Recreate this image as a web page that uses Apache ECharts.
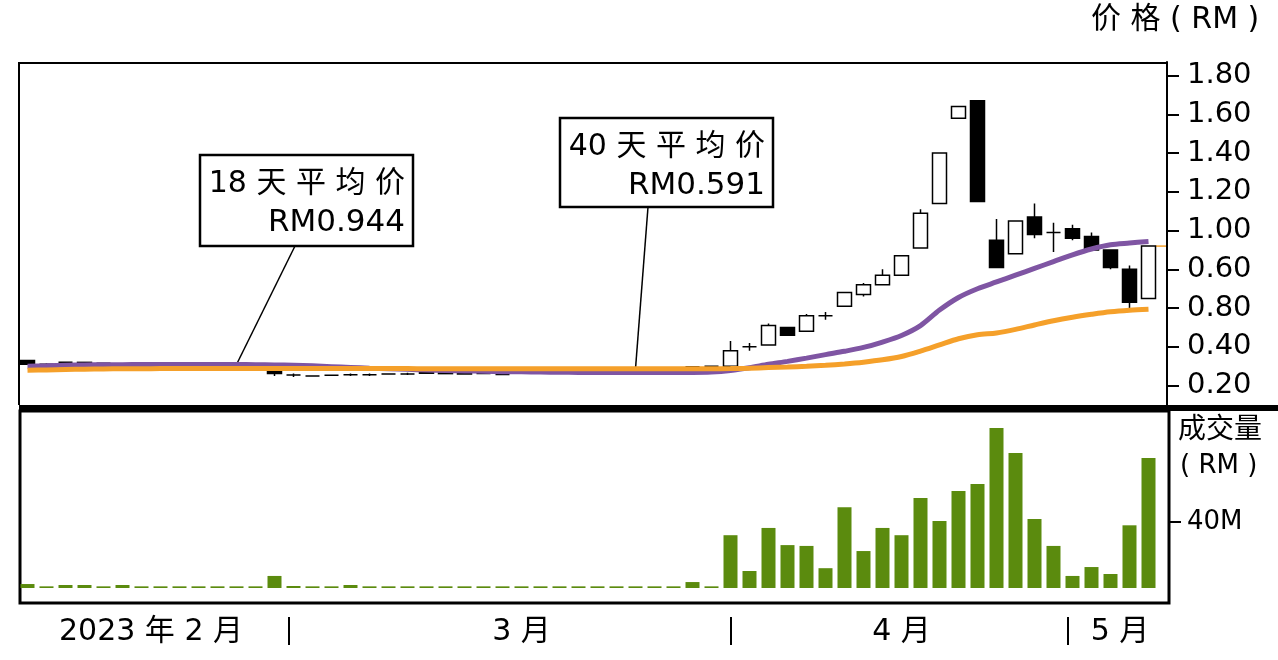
<!DOCTYPE html>
<html lang="zh">
<head>
<meta charset="UTF-8">
<title>价格走势</title>
<script src="https://cdn.jsdelivr.net/npm/echarts@6/dist/echarts.min.js"></script>
<style>
    html, body { margin: 0; padding: 0; background: #fff; }
    #main { width: 1278px; height: 660px; }
</style>
</head>
<body>
<div id="main"></div>
<script type="text/javascript">
// 交易日 2023-02-09 至 2023-05-08
var days = [
    '02-09','02-10','02-13','02-14','02-15','02-16','02-17','02-20','02-21','02-22','02-23','02-24','02-27','02-28',
    '03-01','03-02','03-03','03-06','03-07','03-08','03-09','03-10','03-13','03-14','03-15','03-16','03-17','03-20',
    '03-21','03-22','03-23','03-24','03-27','03-28','03-29','03-30','03-31',
    '04-03','04-04','04-05','04-06','04-07','04-10','04-11','04-12','04-13','04-14','04-17','04-18','04-19','04-20',
    '04-25','04-26','04-27','04-28',
    '05-02','05-03','05-04','05-05','05-08'
];

// 开盘 / 收盘 / 最低 / 最高 (RM)
var opens = [
    0.33,0.31,0.32,0.32,0.315,0.31,0.305,0.305,0.30,0.305,0.30,0.30,0.30,0.28,
    0.255,0.25,0.254,0.256,0.256,0.26,0.26,0.268,0.265,0.263,0.262,0.258,0.27,0.278,0.278,0.282,0.28,0.285,0.283,0.285,0.29,0.298,0.30,
    0.30,0.40,0.41,0.50,0.48,0.56,0.61,0.67,0.72,0.77,0.91,1.14,1.58,1.67,0.95,0.88,1.07,0.99,1.01,0.97,0.90,0.80,0.65
];
var closes = [
    0.31,0.31,0.32,0.316,0.315,0.31,0.305,0.305,0.30,0.305,0.30,0.30,0.30,0.263,
    0.255,0.25,0.254,0.256,0.256,0.26,0.26,0.264,0.262,0.26,0.262,0.258,0.27,0.278,0.278,0.282,0.28,0.285,0.283,0.285,0.29,0.298,0.30,
    0.38,0.40,0.51,0.46,0.56,0.56,0.68,0.72,0.77,0.87,1.09,1.40,1.64,1.15,0.81,1.05,0.98,0.99,0.96,0.90,0.81,0.63,0.92
];
var lows = [
    0.31,0.305,0.318,0.316,0.312,0.305,0.30,0.30,0.298,0.30,0.298,0.295,0.295,0.25,
    0.245,0.248,0.25,0.25,0.25,0.258,0.255,0.264,0.262,0.26,0.26,0.256,0.268,0.276,0.276,0.28,0.278,0.283,0.281,0.283,0.288,0.296,0.298,
    0.30,0.38,0.41,0.46,0.48,0.54,0.61,0.66,0.72,0.77,0.91,1.14,1.58,1.15,0.81,0.88,0.96,0.89,0.95,0.90,0.80,0.60,0.65
];
var highs = [
    0.33,0.315,0.325,0.32,0.318,0.312,0.31,0.31,0.305,0.31,0.305,0.305,0.302,0.28,
    0.262,0.252,0.256,0.262,0.262,0.262,0.266,0.268,0.265,0.263,0.264,0.26,0.272,0.28,0.28,0.284,0.282,0.287,0.285,0.287,0.292,0.30,0.30,
    0.43,0.42,0.52,0.50,0.57,0.58,0.68,0.73,0.80,0.87,1.11,1.40,1.64,1.67,1.06,1.05,1.14,1.04,1.03,0.99,0.90,0.82,0.92
];

// 18天 / 40天平均价
var ma18 = [
    0.300,0.302,0.305,0.307,0.308,0.308,0.309,0.309,0.309,0.309,0.309,0.309,0.308,0.307,
    0.305,0.302,0.298,0.294,0.290,0.287,0.284,0.281,0.278,0.276,0.274,0.272,0.271,0.270,0.269,0.268,
    0.268,0.268,0.268,0.268,0.268,0.268,0.270,
    0.278,0.292,0.310,0.325,0.342,0.360,0.377,0.397,0.425,0.459,0.510,0.590,0.655,0.700,0.735,0.770,
    0.805,0.840,0.875,0.905,0.927,0.936,0.944
];
var ma40 = [
    0.279,0.281,0.283,0.285,0.286,0.287,0.287,0.288,0.288,0.288,0.288,0.288,0.288,0.288,
    0.288,0.288,0.288,0.288,0.288,0.288,0.288,0.287,0.287,0.287,0.287,0.287,0.287,0.287,0.287,0.287,
    0.287,0.287,0.287,0.287,0.287,0.287,0.287,
    0.288,0.290,0.293,0.296,0.300,0.305,0.312,0.321,0.333,0.350,0.378,0.410,0.442,0.463,0.472,0.490,
    0.513,0.535,0.553,0.568,0.581,0.589,0.594
];

// 成交量 (百万 RM)
var volumes = [
    2.4,1.0,1.8,1.8,1.0,1.8,1.0,1.0,1.0,1.0,1.0,1.0,1.0,7.3,
    1.2,1.0,1.0,1.8,1.0,1.0,1.0,1.0,1.0,1.0,1.0,1.0,1.0,1.0,1.0,1.0,1.0,1.0,1.0,1.0,1.0,3.6,1.0,
    32,10.3,36.4,26,25.5,12,49,22.4,36.4,32,54.5,40.6,58.8,63,97,81.8,41.8,25.5,7.3,12.7,8.5,38,78.8
];

// 刻度
var priceTicks = [0.2, 0.4, 0.6, 0.8, 1.0, 1.2, 1.4, 1.6, 1.8];
var priceTickLabels = ['0.20', '0.40', '0.80', '0.60', '1.00', '1.20', '1.40', '1.60', '1.80'];
var volTicks = [40];
var volTickLabels = ['40M'];
var monthTicks = [13.75, 37, 54.75];
var monthLabelPos = [6.5, 26, 46, 57.5];
var monthLabels = ['2023 年 2 月', '3 月', '4 月', '5 月'];

function pick(list, labels, v) {
    for (var i = 0; i < list.length; i++) {
        if (Math.abs(list[i] - v) < 1e-6) return labels[i];
    }
    return '';
}

var candles = [];
for (var i = 0; i < days.length; i++) {
    candles.push([opens[i], closes[i], lows[i], highs[i]]);
}

var latin = 'DejaVu Sans, Noto Sans CJK SC';
var myChart = echarts.init(document.getElementById('main'));

option = {
    animation: false,
    backgroundColor: '#fff',
    textStyle: { fontFamily: latin, color: '#000' },
    grid: [
        { left: 18, top: 62, width: 1140, height: 343, outerBoundsMode: 'none' },
        { left: 18, top: 411, width: 1140, height: 192, outerBoundsMode: 'none' }
    ],
    xAxis: [
        { type: 'category', gridIndex: 0, data: days, show: false },
        { type: 'category', gridIndex: 1, data: days, show: false },
        {
            type: 'value', gridIndex: 1, min: -0.5, max: 59.5, position: 'bottom', offset: 14,
            axisLine: { show: false, onZero: false },
            splitLine: { show: false },
            axisTick: { show: true, customValues: monthTicks, length: 28, lineStyle: { color: '#000', width: 2 } },
            axisLabel: {
                customValues: monthLabelPos,
                margin: 15,
                verticalAlign: 'middle',
                fontSize: 30,
                fontFamily: latin,
                color: '#000',
                formatter: function (v) { return pick(monthLabelPos, monthLabels, v); }
            }
        }
    ],
    yAxis: [
        {
            type: 'value', gridIndex: 0, position: 'right', offset: 9, min: 0.1, max: 1.87,
            axisLine: { show: true, onZero: false, lineStyle: { color: '#000', width: 2 } },
            splitLine: { show: false },
            axisTick: { show: true, customValues: priceTicks, length: 12, lineStyle: { color: '#000', width: 2 } },
            axisLabel: {
                customValues: priceTicks,
                margin: 20,
                fontSize: 29,
                fontFamily: 'DejaVu Sans',
                color: '#000',
                formatter: function (v) { return pick(priceTicks, priceTickLabels, v); }
            }
        },
        {
            type: 'value', gridIndex: 1, position: 'right', offset: 11, min: -9.1, max: 107.3,
            axisLine: { show: false, onZero: false },
            splitLine: { show: false },
            axisTick: { show: true, customValues: volTicks, length: 12, lineStyle: { color: '#000', width: 2 } },
            axisLabel: {
                customValues: volTicks,
                margin: 18,
                fontSize: 26,
                fontFamily: 'DejaVu Sans',
                color: '#000',
                formatter: function (v) { return pick(volTicks, volTickLabels, v); }
            }
        }
    ],
    series: [
        {
            name: '价格',
            type: 'candlestick',
            xAxisIndex: 0, yAxisIndex: 0,
            data: candles,
            barWidth: 15,
            itemStyle: {
                color: '#fff', color0: '#000',
                borderColor: '#000', borderColor0: '#000', borderColorDoji: '#000',
                borderWidth: 1.5
            }
        },
        {
            name: '18天平均价',
            type: 'line',
            xAxisIndex: 0, yAxisIndex: 0,
            data: ma18,
            smooth: 0.3,
            showSymbol: false,
            lineStyle: { color: '#7f55a3', width: 5 }
        },
        {
            name: '40天平均价',
            type: 'line',
            xAxisIndex: 0, yAxisIndex: 0,
            data: ma40,
            smooth: 0.3,
            showSymbol: false,
            lineStyle: { color: '#f5a02a', width: 5 }
        },
        {
            name: '成交量',
            type: 'bar',
            xAxisIndex: 1, yAxisIndex: 1,
            data: volumes,
            barWidth: 14,
            itemStyle: { color: '#5b8b0e' }
        }
    ]
};
myChart.setOption(option);

// 标注框与边框
var p18 = myChart.convertToPixel({ xAxisIndex: 0, yAxisIndex: 0 }, [11, ma18[11]]);
var p40 = myChart.convertToPixel({ xAxisIndex: 0, yAxisIndex: 0 }, [32, ma40[32]]);
var pLast = myChart.convertToPixel({ xAxisIndex: 0, yAxisIndex: 0 }, [59, closes[59]]);

function box(x, y, w, h, line1, line2) {
    return {
        type: 'group',
        children: [
            { type: 'rect', shape: { x: x, y: y, width: w, height: h }, style: { fill: '#fff', stroke: '#000', lineWidth: 2.5 } },
            { type: 'text', style: { x: x + w - 8, y: y + 29, text: line1, align: 'right', verticalAlign: 'middle', font: '30px ' + latin, fill: '#000' } },
            { type: 'text', style: { x: x + w - 8, y: y + 68, text: line2, align: 'right', verticalAlign: 'middle', font: '31px ' + latin, fill: '#000' } }
        ]
    };
}

myChart.setOption({
    graphic: [
        { type: 'polyline', shape: { points: [[19, 405], [19, 63], [1167, 63]] }, style: { fill: null, stroke: '#000', lineWidth: 2 } },
        { type: 'rect', shape: { x: 19, y: 405, width: 1259, height: 6 }, style: { fill: '#000' } },
        { type: 'rect', shape: { x: 20, y: 411, width: 1149, height: 192 }, style: { fill: null, stroke: '#000', lineWidth: 3 } },
        { type: 'line', shape: { x1: pLast[0] + 7, y1: pLast[1], x2: 1167, y2: pLast[1] }, style: { stroke: '#f5a02a', lineWidth: 1.5 } },
        { type: 'line', shape: { x1: 295, y1: 246, x2: p18[0], y2: p18[1] }, style: { stroke: '#000', lineWidth: 1.5 } },
        { type: 'line', shape: { x1: 648, y1: 207, x2: p40[0], y2: p40[1] }, style: { stroke: '#000', lineWidth: 1.5 } },
        box(200, 155, 213, 91, '18 天 平 均 价', 'RM0.944'),
        box(560, 118, 213, 89, '40 天 平 均 价', 'RM0.591'),
        { type: 'text', style: { x: 1091, y: 20, text: '价 格 ( RM )', verticalAlign: 'middle', font: '30px ' + latin, fill: '#000' } },
        { type: 'text', style: { x: 1178, y: 431, text: '成交量', verticalAlign: 'middle', font: '28px ' + latin, fill: '#000' } },
        { type: 'text', style: { x: 1180, y: 466, text: '( RM )', verticalAlign: 'middle', font: '26px ' + latin, fill: '#000' } }
    ]
});
</script>
</body>
</html>
